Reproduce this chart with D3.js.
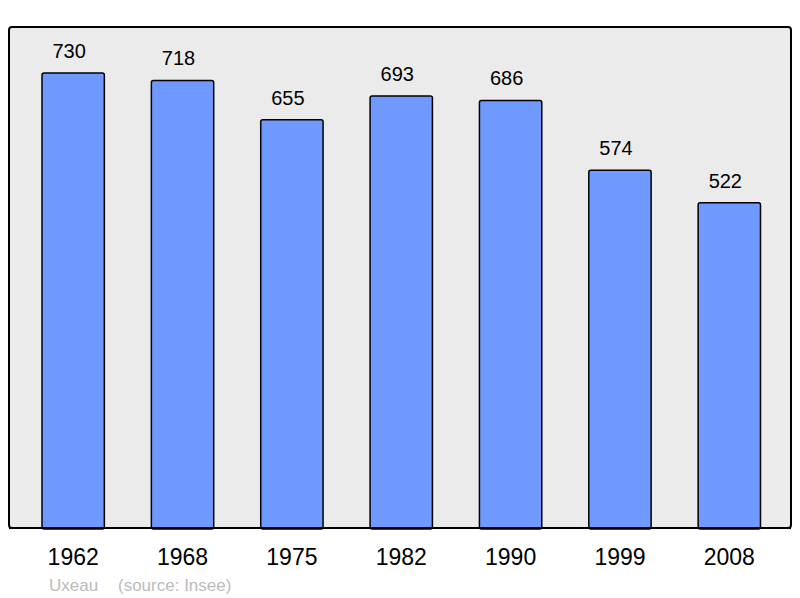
<!DOCTYPE html>
<html><head><meta charset="utf-8">
<script src="https://cdn.jsdelivr.net/npm/d3@7"></script>
<style>body{margin:0;background:#fff}svg{display:block}</style>
</head><body>
<svg id="c" width="800" height="598"></svg>
<script>
const years = ["1962","1968","1975","1982","1990","1999","2008"];
const population = [730,718,655,693,686,574,522];
const commune = "Uxeau";
const source = "(source: Insee)";

const svg = d3.select("#c");
const font = "'Liberation Sans', Arial, sans-serif";
const panel = {x0:9, y0:27, x1:791, y1:528};

svg.append("rect").attr("x",panel.x0).attr("y",panel.y0)
  .attr("width",panel.x1-panel.x0).attr("height",panel.y1-panel.y0)
  .attr("rx",3).attr("fill","#ebebeb").attr("stroke","#000").attr("stroke-width",2);

const x = d3.scaleBand().domain(years).range([18.5,784]).paddingInner(0.43).paddingOuter(0.215);
const y = d3.scaleLinear().domain([0,730]).range([panel.y1,73]);

const g = svg.append("g");
g.selectAll("rect.bar").data(years).join("rect").attr("class","bar")
  .attr("x",d=>x(d)).attr("width",x.bandwidth())
  .attr("y",(d,i)=>y(population[i])).attr("height",(d,i)=>panel.y1-y(population[i])+1)
  .attr("rx",2).attr("fill","#7099ff").attr("stroke","#000").attr("stroke-width",1.5);

g.selectAll("text.val").data(years).join("text").attr("class","val")
  .attr("x",d=>x(d)+x.bandwidth()/2-4).attr("y",(d,i)=>y(population[i])-15)
  .attr("text-anchor","middle").attr("font-family",font).attr("font-size",20).attr("fill","#000")
  .text((d,i)=>population[i]);

svg.append("line").attr("x1",panel.x0).attr("x2",panel.x1).attr("y1",panel.y1).attr("y2",panel.y1)
  .attr("stroke","#000").attr("stroke-width",2);

const axis = d3.axisBottom(x).tickSize(0).tickPadding(0);
const ax = svg.append("g").attr("transform",`translate(0,${panel.y1})`).call(axis);
ax.select(".domain").remove();
ax.selectAll("text").attr("font-family",font).attr("font-size",23).attr("fill","#000")
  .attr("dy",null).attr("y",37);

svg.append("text").attr("x",49).attr("y",591).attr("font-family",font).attr("font-size",17)
  .attr("fill","#bbbbbb").text(commune);
svg.append("text").attr("x",118).attr("y",591).attr("font-family",font).attr("font-size",17)
  .attr("fill","#bbbbbb").text(source);
</script>
</body></html>
